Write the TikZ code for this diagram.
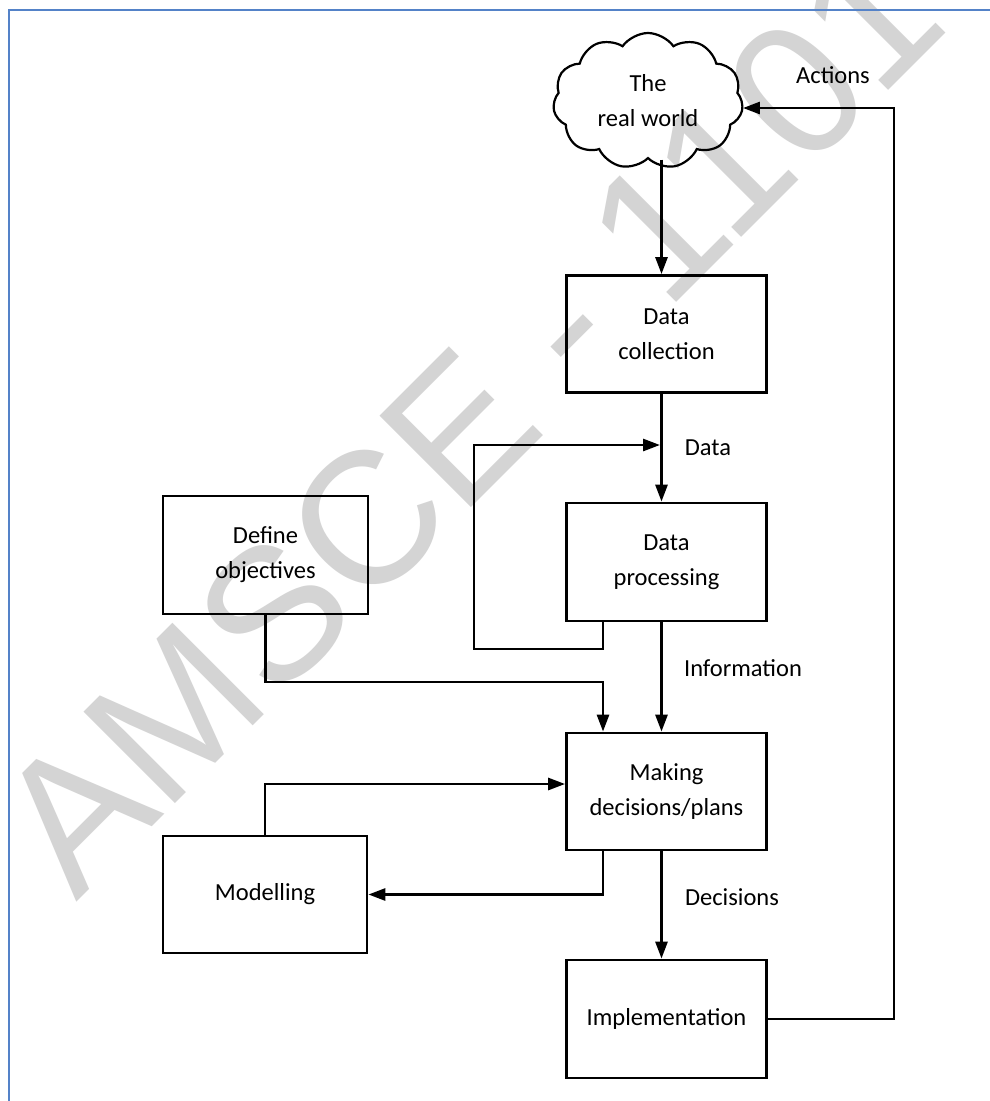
\documentclass[tikz,border=0pt]{standalone}
\usepackage{fontspec}
\setmainfont{Carlito}
\newfontfamily\wmfont{Liberation Sans}
\usetikzlibrary{arrows.meta,shapes.symbols,calc}
\definecolor{wmgray}{RGB}{212,212,212}
\definecolor{frameblue}{RGB}{84,130,200}
\begin{document}
\begin{tikzpicture}[x=1pt,y=-1pt,
  box/.style={draw, line width=2.8pt, minimum width=200pt, minimum height=117pt, align=center, inner sep=0pt, font=\fontsize{24.5}{35}\selectfont},
  conn/.style={line width=2.8pt, -{Triangle[length=17pt,width=12pt]}},
  lbl/.style={font=\fontsize{24.5}{30}\selectfont, inner sep=0pt}]
\useasboundingbox (0,0) rectangle (990,1101);
\fill[white] (0,0) rectangle (990,1101);
% watermark
\begin{scope}
\clip (0,0) rectangle (990,1101);
\node[rotate=45, anchor=base west, inner sep=0pt, text=wmgray, font=\wmfont\fontsize{188}{188}\selectfont] (wmk) at (76,903) {AMSCE - 1101};
\end{scope}
% frame
\draw[frameblue, line width=2.2pt] (9,1101) -- (9,10) -- (990,10);
% nodes
\node[cloud, draw, line width=2.2pt, cloud puffs=11, cloud puff arc=110, aspect=1.38, minimum width=190pt, minimum height=136pt, inner sep=0pt, align=center, font=\fontsize{24.5}{35}\selectfont] (world) at (648,101) {The\\real world};
\node[box] (dc) at (666.5,334) {Data\\collection};
\node[box, minimum height=118pt] (dp) at (666.5,562) {Data\\processing};
\node[box] (md) at (666.5,791.5) {Making\\decisions/plans};
\node[box, minimum height=118pt] (impl) at (666.5,1019) {Implementation};
\node[box, minimum width=205pt, minimum height=118pt] (def) at (265.5,555) {Define\\objectives};
\node[box, minimum width=204pt] (mod) at (265,894.5) {Modelling};
% labels
\node[lbl] (ldata) at (708,448) {Data};
\node[lbl] (linfo) at (743,668) {Information};
\node[lbl] (ldec) at (732,897) {Decisions};
\node[lbl] (lact) at (833,75) {Actions};
% helper coordinates
\coordinate (vx) at (661.5,0);
\coordinate (rx) at (894,108);
\coordinate (loopL) at (474,649);
\coordinate (dj) at (660,445);
\coordinate (dj2) at (603,682);
% connectors
\draw[conn] (world.south -| vx) -- (dc.north -| vx);
\draw[conn] (dc.south -| vx) -- (dp.north -| vx);
\draw[conn] (dp.south -| vx) -- (md.north -| vx);
\draw[conn] (md.south -| vx) -- (impl.north -| vx);
\draw[conn] ([xshift=-63.5pt]dp.south) |- (loopL) |- (dj);
\draw[conn] (def.south) |- (dj2) -- ([xshift=-63.5pt]md.north);
\draw[conn] (mod.north) |- ([yshift=7.5pt]md.west);
\draw[conn] ([xshift=-63.5pt]md.south) |- (mod.east);
\draw[conn] (impl.east) -| (rx) -- (rx -| world.east);
\end{tikzpicture}
\end{document}
